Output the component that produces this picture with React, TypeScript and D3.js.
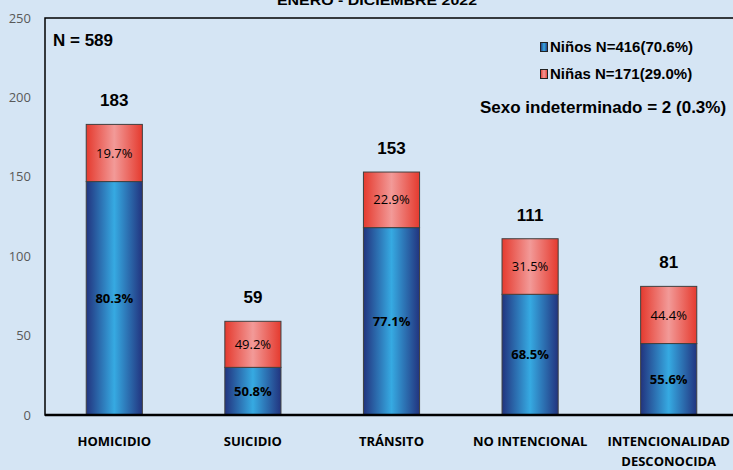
import React from "react";
import * as d3 from "d3";

const categories = ["HOMICIDIO", "SUICIDIO", "TRÁNSITO", "NO INTENCIONAL", "INTENCIONALIDAD DESCONOCIDA"];
const categoryLines = [["HOMICIDIO"], ["SUICIDIO"], ["TRÁNSITO"], ["NO INTENCIONAL"], ["INTENCIONALIDAD", "DESCONOCIDA"]];
const ninos = [147, 30, 118, 76, 45];
const ninas = [36, 29, 35, 35, 36];
const totals = [183, 59, 153, 111, 81];
const pctNinos = ["80.3%", "50.8%", "77.1%", "68.5%", "55.6%"];
const pctNinas = ["19.7%", "49.2%", "22.9%", "31.5%", "44.4%"];
const yTicks = [0, 50, 100, 150, 200, 250];
const title = "ENERO - DICIEMBRE 2022";
const legendLabels = ["Niños N=416(70.6%)", "Niñas N=171(29.0%)"];
const nLabel = "N = 589";
const noteLabel = "Sexo indeterminado = 2 (0.3%)";

const W = 733, H = 470;
const left = 45, right = 738, top = 18, bottom = 415;
const narrow = "'Liberation Sans Narrow', 'Arial Narrow', 'Liberation Sans', sans-serif";
const cal = "'Liberation Sans Narrow', 'Open Sans', sans-serif";

export default function App() {
  const x = d3.scaleBand<string>().domain(categories).range([left, right]).padding(0);
  const y = d3.scaleLinear().domain([0, 250]).range([bottom, top]);
  const bw = x.bandwidth() * 0.405;
  return (
    <svg width={W} height={H} style={{ position: "absolute", left: 0, top: 0, display: "block" }}>
      <defs>
        <linearGradient id="gBlue" x1="0" x2="1" y1="0" y2="0">
          <stop offset="0" stopColor="#22347f" />
          <stop offset="0.5" stopColor="#36aae2" />
          <stop offset="1" stopColor="#22347f" />
        </linearGradient>
        <linearGradient id="gRed" x1="0" x2="1" y1="0" y2="0">
          <stop offset="0" stopColor="#e53a2e" />
          <stop offset="0.5" stopColor="#f29a98" />
          <stop offset="1" stopColor="#e53a2e" />
        </linearGradient>
      </defs>
      <rect x={0} y={0} width={W} height={H} fill="#d5e5f4" />
      <text x={377} y={5} textAnchor="middle" textLength={200} lengthAdjust="spacingAndGlyphs" fontFamily="'Liberation Sans', Arial, sans-serif" fontWeight="bold" fontSize={13} fill="#000">{title}</text>
      <rect x={left} y={top} width={right - left} height={bottom - top} fill="none" stroke="#000" strokeWidth={1.5} />
      {yTicks.map((t) => (
        <text key={t} x={31} y={y(t)} dy="0.35em" textAnchor="end" fontFamily={cal} fontSize={13} fill="#595959">{t}</text>
      ))}
      {categories.map((c, i) => {
        const cx = (x(c) as number) + x.bandwidth() / 2;
        const x0 = cx - bw / 2;
        const yb = y(ninos[i]);
        const yt = y(ninos[i] + ninas[i]);
        return (
          <g key={c}>
            <rect x={x0} y={yb} width={bw} height={bottom - yb} fill="url(#gBlue)" stroke="#404040" strokeWidth={1} />
            <rect x={x0} y={yt} width={bw} height={yb - yt} fill="url(#gRed)" stroke="#404040" strokeWidth={1} />
            <text x={cx} y={(yb + bottom) / 2} dy="0.35em" textAnchor="middle" fontFamily={cal} fontWeight="bold" fontSize={13} fill="#000">{pctNinos[i]}</text>
            <text x={cx} y={(yt + yb) / 2} dy="0.35em" textAnchor="middle" fontFamily={cal} fontSize={13} fill="#000">{pctNinas[i]}</text>
            <text x={cx} y={y(totals[i]) - 18} textAnchor="middle" fontFamily={narrow} fontWeight="bold" fontSize={17} fill="#000">{totals[i]}</text>
            {categoryLines[i].map((l, j) => (
              <text key={j} x={cx} y={446 + j * 20} textAnchor="middle" fontFamily={cal} fontWeight="bold" fontSize={13} fill="#000">{l}</text>
            ))}
          </g>
        );
      })}
      <line x1={left} x2={right} y1={bottom} y2={bottom} stroke="#000" strokeWidth={2.5} />
      <text x={53} y={46} fontFamily={narrow} fontWeight="bold" fontSize={17} fill="#000">{nLabel}</text>
      <rect x={540.5} y={42.5} width={7} height={9} fill="url(#gBlue)" stroke="#222" strokeWidth={1} />
      <text x={550} y={52} fontFamily={narrow} fontWeight="bold" fontSize={15} fill="#000">{legendLabels[0]}</text>
      <rect x={540.5} y={69.5} width={7} height={9} fill="url(#gRed)" stroke="#222" strokeWidth={1} />
      <text x={550} y={79} fontFamily={narrow} fontWeight="bold" fontSize={15} fill="#000">{legendLabels[1]}</text>
      <text x={480} y={113} fontFamily={narrow} fontWeight="bold" fontSize={17} fill="#000">{noteLabel}</text>
    </svg>
  );
}
